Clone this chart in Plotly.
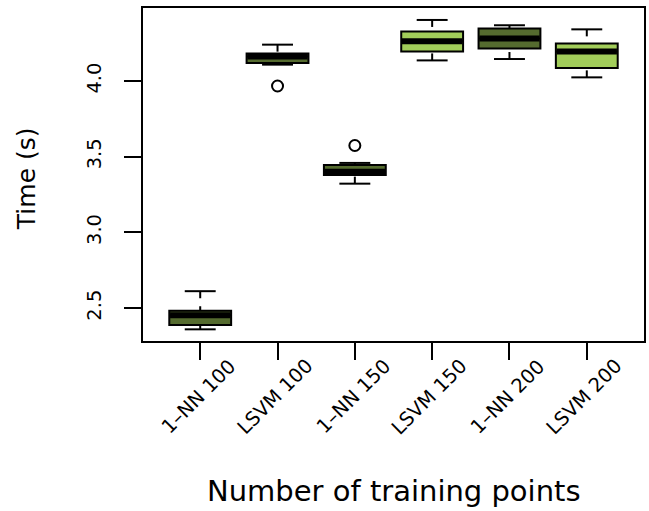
import plotly.graph_objects as go

labels = ["1–NN 100", "LSVM 100", "1–NN 150", "LSVM 150", "1–NN 200", "LSVM 200"]
lower = [2.360, 4.108, 3.322, 4.136, 4.145, 4.024]
q1 = [2.388, 4.118, 3.379, 4.194, 4.214, 4.086]
median = [2.453, 4.162, 3.400, 4.263, 4.280, 4.195]
q3 = [2.483, 4.182, 3.446, 4.326, 4.347, 4.248]
upper = [2.612, 4.240, 3.459, 4.403, 4.368, 4.341]
outlier_label = ["LSVM 100", "1–NN 150"]
outlier_value = [3.967, 3.574]
fill_colors = ["#556B2F", "#556B2F", "#556B2F", "#A2CD5A", "#556B2F", "#A2CD5A"]
y_ticks = [2.5, 3.0, 3.5, 4.0]
y_ticktext = ["2.5", "3.0", "3.5", "4.0"]

BOXW = 0.8
CAPW = 0.4
FONT = "DejaVu Sans"
TICKSIZE = 19.5

pos = list(range(1, len(labels) + 1))
fig = go.Figure()

# whiskers (dashed), drawn from extreme towards the box like R
wx, wy = [], []
for p, lo, a, b, hi in zip(pos, lower, q1, q3, upper):
    wx += [p, p, None, p, p, None]
    wy += [hi, b, None, lo, a, None]
fig.add_trace(go.Scatter(x=wx, y=wy, mode="lines",
                         line=dict(color="black", width=2, dash="7px,8px"),
                         hoverinfo="skip", showlegend=False))
# caps
cx, cy = [], []
for p, lo, hi in zip(pos, lower, upper):
    cx += [p - CAPW / 2, p + CAPW / 2, None, p - CAPW / 2, p + CAPW / 2, None]
    cy += [hi, hi, None, lo, lo, None]
fig.add_trace(go.Scatter(x=cx, y=cy, mode="lines",
                         line=dict(color="black", width=2),
                         hoverinfo="skip", showlegend=False))

# boxes
for p, a, m, b, c in zip(pos, q1, median, q3, fill_colors):
    fig.add_trace(go.Box(x=[p], q1=[a], median=[m], q3=[b],
                         lowerfence=[a], upperfence=[b],
                         width=BOXW, fillcolor=c, whiskerwidth=0,
                         line=dict(color="black", width=2),
                         boxpoints=False, hoverinfo="skip", showlegend=False))

# thick medians
mx, my = [], []
for p, m in zip(pos, median):
    mx += [p - BOXW / 2 + 0.01, p + BOXW / 2 - 0.01, None]
    my += [m, m, None]
fig.add_trace(go.Scatter(x=mx, y=my, mode="lines",
                         line=dict(color="black", width=6),
                         hoverinfo="skip", showlegend=False))

# outliers
ox = [pos[labels.index(l)] for l in outlier_label]
fig.add_trace(go.Scatter(x=ox, y=outlier_value, mode="markers",
                         marker=dict(symbol="circle-open", size=11,
                                     color="black", line=dict(width=2)),
                         hoverinfo="skip", showlegend=False))

annotations = [
    dict(text="Number of training points", xref="paper", yref="paper",
         x=0.5, y=-0.45, xanchor="center", yanchor="middle", showarrow=False,
         font=dict(family=FONT, size=29, color="black")),
    dict(text="Time (s)", xref="paper", yref="paper",
         x=-0.2336, y=0.489, xanchor="center", yanchor="middle", showarrow=False,
         textangle=-90, font=dict(family=FONT, size=25, color="black")),
]
for p, lab in zip(pos, labels):
    annotations.append(dict(text=lab, xref="x", yref="paper", x=p, y=-0.032,
                            xanchor="right", yanchor="top", xshift=43,
                            textangle=-45, showarrow=False,
                            font=dict(family=FONT, size=TICKSIZE, color="black")))

fig.update_layout(
    width=649, height=511,
    margin=dict(l=143, r=3, t=8, b=170),
    paper_bgcolor="white", plot_bgcolor="white",
    boxmode="overlay",
    font=dict(family=FONT, color="black"),
    xaxis=dict(range=[0.26, 6.74], tickmode="array", tickvals=pos, showticklabels=False,
               ticks="outside", ticklen=17, tickwidth=2, tickcolor="black",
               showline=True, linecolor="black", linewidth=2, mirror=True,
               showgrid=False, zeroline=False),
    yaxis=dict(range=[2.283, 4.482], tickmode="array", tickvals=y_ticks,
               ticktext=y_ticktext,
               tickangle=-90, ticks="outside", ticklen=17, tickwidth=2, tickcolor="black",
               showline=True, linecolor="black", linewidth=2, mirror=True,
               showgrid=False, zeroline=False, ticklabelstandoff=15,
               tickfont=dict(family=FONT, size=TICKSIZE, color="black")),
    annotations=annotations,
)

fig.write_html("out.html")
